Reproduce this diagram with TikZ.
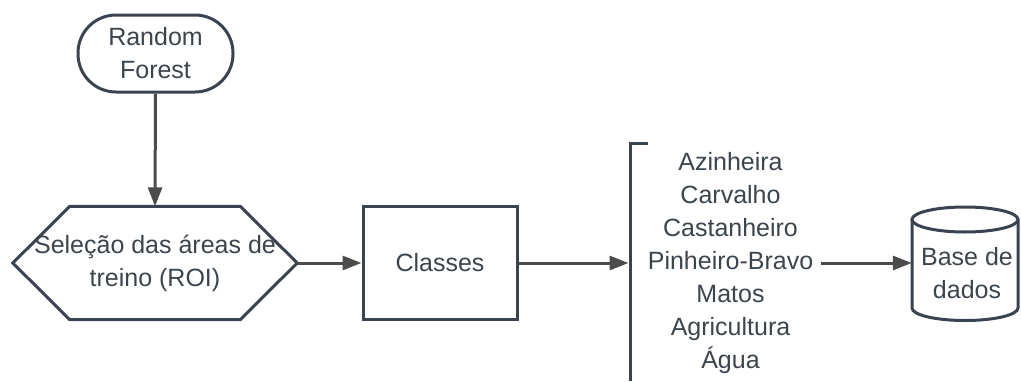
\documentclass[tikz,border=0pt]{standalone}
\usepackage{fontspec}
\setmainfont{Liberation Sans}
\usetikzlibrary{arrows.meta,calc}
\definecolor{ink}{RGB}{58,68,80}
\definecolor{txt}{RGB}{60,68,78}
\definecolor{arr}{RGB}{75,75,75}
\begin{document}
\begin{tikzpicture}[x=1pt,y=-1pt,
  lbl/.style={font=\fontsize{25}{33}\selectfont, text=txt, align=center},
  shp/.style={draw=ink, line width=3pt, fill=white},
  edge/.style={draw=ink, line width=3pt, line join=miter},
  conn/.style={draw=arr, line width=3pt, -{Triangle[length=19pt,width=14pt]}}]
\useasboundingbox (0,0) rectangle (1021,381);
% Random Forest
\node[shp, lbl, rounded corners=38pt, minimum width=155pt, minimum height=77pt, inner sep=0pt] (rf) at (155.5,53.5) {Random\\Forest};
% hexagon
\node[lbl, minimum width=284pt, minimum height=113pt, inner sep=0pt] (sel) at (155,263) {Seleção das áreas de\\treino (ROI)};
\draw[edge] (sel.west) -- ($(sel.north west)+(57,0)$) -- ($(sel.north east)+(-57,0)$) -- (sel.east) -- ($(sel.south east)+(-57,0)$) -- ($(sel.south west)+(57,0)$) -- cycle;
% Classes
\node[shp, lbl, minimum width=154pt, minimum height=113pt] (cls) at (440,263) {Classes};
% bracket + list
\draw[edge] (648,143) -- (630,143) -- (630,381);
\coordinate (br) at (628.5,263);
\node[lbl, inner xsep=8pt, inner ysep=0pt] (lst) at (730.5,263) {Azinheira\\Carvalho\\Castanheiro\\Pinheiro-Bravo\\Matos\\Agricultura\\Água};
% database cylinder
\node[minimum width=106pt, minimum height=113pt, inner sep=0pt] (db) at (965,263) {};
\draw[edge] (965,219.5) ellipse [x radius=53pt, y radius=12.5pt];
\draw[edge] (912,219.5) -- (912,308) arc [start angle=180, end angle=360, x radius=53pt, y radius=12.5pt] -- (1018,219.5);
\node[lbl] (dbt) at (967,273) {Base de\\dados};
% connectors
\draw[conn] (rf.south) -- (sel.north);
\draw[conn] (sel.east) -- (cls.west);
\draw[conn] (cls.east) -- (br);
\draw[conn] (lst.east) -- (db.west);
\end{tikzpicture}
\end{document}
